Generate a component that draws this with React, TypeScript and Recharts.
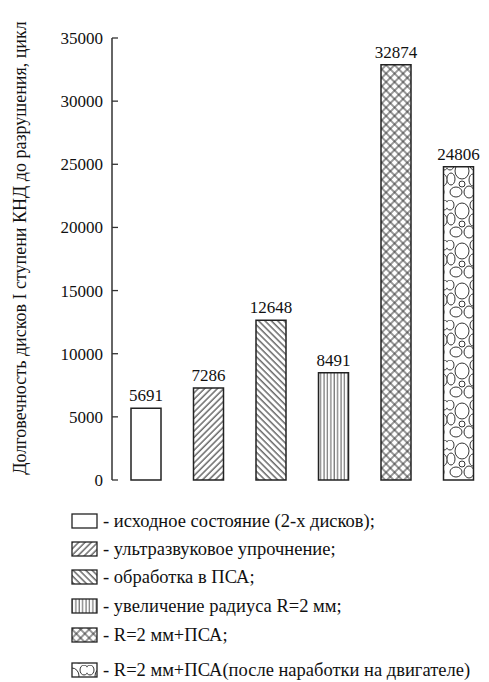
import React from 'react';
import { BarChart, Bar, XAxis, YAxis, Cell, LabelList } from 'recharts';

const categories = [
  'исходное состояние (2-х дисков);',
  'ультразвуковое упрочнение;',
  'обработка в ПСА;',
  'увеличение радиуса R=2 мм;',
  'R=2 мм+ПСА;',
  'R=2 мм+ПСА(после наработки на двигателе)',
];
const values = [5691, 7286, 12648, 8491, 32874, 24806];
const yTicks = [0, 5000, 10000, 15000, 20000, 25000, 30000, 35000];
const fills = ['#ffffff', 'url(#pUltra)', 'url(#pPsa)', 'url(#pRad)', 'url(#pCross)', 'url(#pStone)'];
const yLabel = 'Долговечность дисков I ступени КНД до разрушения, цикл';

const data = categories.map((name, i) => ({ name, value: values[i] }));

const FONT = "'Times New Roman', 'Liberation Serif', serif";
const INK = '#111';
const legendRowY = [16, 44, 72, 101, 130, 165];

const YTick = (props: any) => {
  const { x, y, payload } = props;
  return (
    <g>
      <text x={x} y={y} dy="0.35em" textAnchor="end" style={{ fontFamily: FONT, fontSize: 17 }} fill={INK}>
        {payload.value}
      </text>
      <line x1={x + 9} x2={x + 15} y1={y} y2={y} stroke="#333" strokeWidth={1.3} />
    </g>
  );
};

const YLabel = () => (
  <text
    x={20}
    y={248}
    transform="rotate(-90 20 248)"
    textAnchor="middle"
    dominantBaseline="central"
    style={{ fontFamily: FONT, fontSize: 18 }}
    fill={INK}
  >
    {yLabel}
  </text>
);

const LegendBlock = () => (
  <svg width={489} height={177} style={{ position: 'absolute', left: 0, top: 505, display: 'block' }}>
    {categories.map((c, i) => (
      <g key={c}>
        <rect x={72} y={legendRowY[i] - 7} width={25} height={14} fill={fills[i]} stroke="#222" strokeWidth={1.3} />
        <text x={103} y={legendRowY[i]} dy="0.35em" style={{ fontFamily: FONT, fontSize: 18.5 }} fill={INK}>
          {'- ' + c}
        </text>
      </g>
    ))}
  </svg>
);

export default function App() {
  return (
    <div style={{ position: 'absolute', left: 0, top: 0, width: 489, height: 682, overflow: 'hidden', background: '#fff' }}>
      <BarChart width={490} height={682} data={data} margin={{ top: 38, right: 0, bottom: 202, left: 0 }}>
        <defs>
          <pattern id="pUltra" patternUnits="userSpaceOnUse" width={4.5} height={4.5} patternTransform="rotate(45)">
            <rect width={4.5} height={4.5} fill="#fff" />
            <line x1={1} y1={0} x2={1} y2={4.5} stroke="#333" strokeWidth={1.1} />
          </pattern>
          <pattern id="pPsa" patternUnits="userSpaceOnUse" width={4.5} height={4.5} patternTransform="rotate(-45)">
            <rect width={4.5} height={4.5} fill="#fff" />
            <line x1={1} y1={0} x2={1} y2={4.5} stroke="#333" strokeWidth={1.1} />
          </pattern>
          <pattern id="pRad" patternUnits="userSpaceOnUse" width={3.4} height={10}>
            <rect width={3.4} height={10} fill="#fff" />
            <line x1={1} y1={0} x2={1} y2={10} stroke="#444" strokeWidth={0.9} />
          </pattern>
          <pattern id="pCross" patternUnits="userSpaceOnUse" width={6} height={6} patternTransform="rotate(45)">
            <rect width={6} height={6} fill="#fff" />
            <line x1={1} y1={0} x2={1} y2={6} stroke="#333" strokeWidth={1} />
            <line x1={0} y1={1} x2={6} y2={1} stroke="#333" strokeWidth={1} />
          </pattern>
          <pattern id="pStone" patternUnits="userSpaceOnUse" x={447} y={0} width={30} height={40}>
            <rect width={30} height={40} fill="#fff" />
            <g fill="none" stroke="#333" strokeWidth={1}>
              <ellipse cx={15} cy={11} rx={7} ry={8} />
              <ellipse cx={3} cy={5} rx={4} ry={5} />
              <ellipse cx={27} cy={5} rx={4} ry={5} />
              <ellipse cx={4} cy={19} rx={4} ry={6} />
              <ellipse cx={26} cy={20} rx={4} ry={6} />
              <ellipse cx={9} cy={32} rx={6} ry={5} />
              <ellipse cx={22} cy={32} rx={5} ry={6} />
              <ellipse cx={15} cy={24} rx={3} ry={3} />
            </g>
          </pattern>
        </defs>
        <XAxis dataKey="name" hide padding={{ left: 3, right: 0 }} />
        <YAxis
          width={112}
          domain={[0, 35000]}
          ticks={yTicks}
          interval={0}
          tickLine={false}
          tickSize={0}
          tickMargin={9}
          axisLine={{ stroke: '#333', strokeWidth: 1.5 }}
          tick={<YTick />}
          label={{ content: () => <YLabel /> }}
        />
        <Bar dataKey="value" barSize={30} stroke="#222" strokeWidth={1.5} isAnimationActive={false}>
          {data.map((d, i) => (
            <Cell key={d.name} fill={fills[i]} />
          ))}
          <LabelList
            dataKey="value"
            position="top"
            offset={7}
            style={{ fontFamily: FONT, fontSize: 17 }}
            fill={INK}
          />
        </Bar>
      </BarChart>
      <LegendBlock />
    </div>
  );
}
